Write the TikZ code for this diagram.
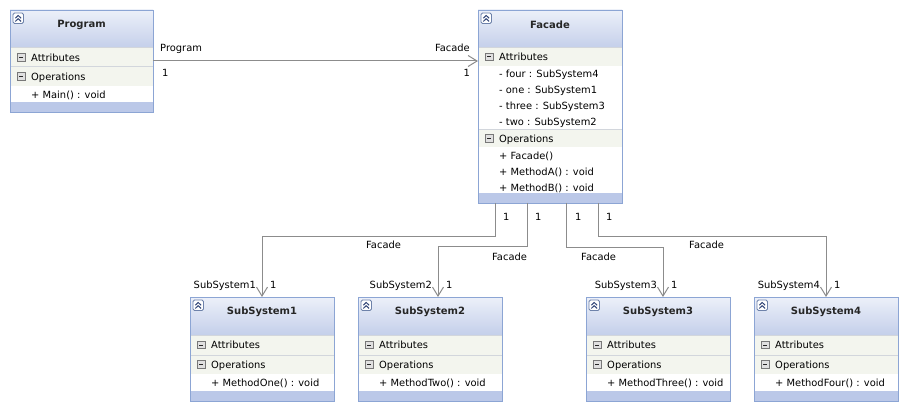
\documentclass[tikz,border=0pt]{standalone}
\usepackage{fontspec}
\setmainfont{DejaVu Sans}
\usetikzlibrary{arrows.meta,calc}
\definecolor{hdtop}{RGB}{236,240,249}
\definecolor{hdbot}{RGB}{196,207,234}
\definecolor{barblue}{RGB}{187,200,232}
\definecolor{rowgreen}{RGB}{243,245,238}
\definecolor{umlborder}{RGB}{140,165,212}
\definecolor{sepline}{RGB}{210,214,220}
\definecolor{conngray}{RGB}{140,140,140}
\definecolor{iconedge}{RGB}{110,130,170}
\definecolor{minusedge}{RGB}{120,120,120}
\definecolor{chev}{RGB}{50,70,120}
% name, left, top, right, bottom, title
\newcommand\umlbox[6]{%
  \fill[white] (#2,#3) rectangle (#4,#5);
  \shade[top color=hdtop,bottom color=hdbot] (#2,#3) rectangle (#4,#3+38);
  \fill[barblue] (#2,#5-10) rectangle (#4,#5);
  \node[ttl] (#1t) at ({(#2+#4)/2},#3+15) {#6};
  \draw[iconedge,fill=white,rounded corners=1.5pt,line width=0.8pt] (#2+3,#3+3) rectangle (#2+13.5,#3+13.5);
  \draw[chev,line width=1pt] (#2+5.3,#3+8.2) -- (#2+8.2,#3+5.5) -- (#2+11.1,#3+8.2)
     (#2+5.3,#3+11.4) -- (#2+8.2,#3+8.7) -- (#2+11.1,#3+11.4);
  \node[frame,minimum width={(#4-#2)*1pt},minimum height={(#5-#3)*1pt}] (#1) at (#2,#3) {};
}
% left, right, y1, y2, text
\newcommand\umlcomp[5]{%
  \fill[rowgreen] (#1,#3) rectangle (#2,#4);
  \draw[sepline,line width=1pt] (#1,#3) -- (#2,#3);
  \draw[minusedge,fill=white!88!black,line width=0.7pt] (#1+7.5,{(#3+#4)/2-3.8}) rectangle (#1+15,{(#3+#4)/2+3.8});
  \draw[black!85,line width=1pt] (#1+9.2,{(#3+#4)/2}) -- (#1+13.3,{(#3+#4)/2});
  \node[lbl,anchor=base west] at (#1+21,{(#3+#4)/2+3.8}) {#5};
}
% left, center y, text
\newcommand\umlitem[3]{%
  \node[lbl,anchor=base west] at (#1+21,#2+3.8) {#3};
}
\newcommand\umlclose[1]{%
  \draw[umlborder,line width=0.9pt] (#1.north west) rectangle (#1.south east);
}
\begin{document}
\begin{tikzpicture}[x=1pt,y=-1pt,
  lbl/.style={font=\fontsize{9.9}{11}\selectfont,inner sep=0pt,text=black},
  ttl/.style={font=\fontsize{10}{11}\selectfont\bfseries,inner sep=0pt,text=black!85},
  frame/.style={draw=none,inner sep=0pt,outer sep=0pt,anchor=north west},
  conn/.style={draw=conngray,line width=1pt,-{Straight Barb[length=9pt,width=11pt,line width=1pt]}},
  ]
\fill[white] (0,0) rectangle (909,411);
\useasboundingbox (0,0) rectangle (909,411);

% Program
\umlbox{program}{10}{10}{153}{112}{Program}
\umlcomp{10}{153}{48}{67}{Attributes}
\umlcomp{10}{153}{67}{86}{Operations}
\umlitem{10}{95}{+ Main() : void}
\umlclose{program}

% Facade
\umlbox{facade}{478}{10}{622}{203}{Facade}
\umlcomp{478}{622}{48}{66}{Attributes}
\umlitem{478}{74}{- four : SubSystem4}
\umlitem{478}{90}{- one : SubSystem1}
\umlitem{478}{106}{- three : SubSystem3}
\umlitem{478}{122}{- two : SubSystem2}
\umlcomp{478}{622}{130}{147}{Operations}
\umlitem{478}{156}{+ Facade()}
\umlitem{478}{172}{+ MethodA() : void}
\umlitem{478}{188}{+ MethodB() : void}
\umlclose{facade}

% SubSystems
\umlbox{sub1}{190}{297}{334}{401}{SubSystem1}
\umlcomp{190}{334}{335}{355}{Attributes}
\umlcomp{190}{334}{355}{374}{Operations}
\umlitem{190}{382.5}{+ MethodOne() : void}
\umlclose{sub1}

\umlbox{sub2}{358}{297}{502}{401}{SubSystem2}
\umlcomp{358}{502}{335}{355}{Attributes}
\umlcomp{358}{502}{355}{374}{Operations}
\umlitem{358}{382.5}{+ MethodTwo() : void}
\umlclose{sub2}

\umlbox{sub3}{586}{297}{730}{401}{SubSystem3}
\umlcomp{586}{730}{335}{355}{Attributes}
\umlcomp{586}{730}{355}{374}{Operations}
\umlitem{586}{382.5}{+ MethodThree() : void}
\umlclose{sub3}

\umlbox{sub4}{754}{297}{898}{401}{SubSystem4}
\umlcomp{754}{898}{335}{355}{Attributes}
\umlcomp{754}{898}{355}{374}{Operations}
\umlitem{754}{382.5}{+ MethodFour() : void}
\umlclose{sub4}

% connectors
\draw[conn] (program.east) -- (program.east -| facade.west);
\draw[conn] ([xshift=17pt]facade.south west) -- ++(0,34) -| (sub1.north);
\draw[conn] ([xshift=49pt]facade.south west) -- ++(0,44) -| ([xshift=80pt]sub2.north west);
\draw[conn] ([xshift=88pt]facade.south west) -- ++(0,45) -| ([xshift=77pt]sub3.north west);
\draw[conn] ([xshift=120pt]facade.south west) -- ++(0,34) -| (sub4.north);

% connector labels
\node[lbl,anchor=base west] (lpa) at (160,52) {Program};
\node[lbl,anchor=base west] (lpb) at (162,77) {1};
\node[lbl,anchor=base east] (lfa) at (470,52) {Facade};
\node[lbl,anchor=base east] (lfb) at (470,77) {1};

\node[lbl,anchor=base west] (m1) at (503,221) {1};
\node[lbl,anchor=base west] (m2) at (535,221) {1};
\node[lbl,anchor=base west] (m3) at (575,221) {1};
\node[lbl,anchor=base west] (m4) at (606,221) {1};

\node[lbl,anchor=base west] (f1) at (366,249) {Facade};
\node[lbl,anchor=base west] (f2) at (492,261) {Facade};
\node[lbl,anchor=base west] (f3) at (581,261) {Facade};
\node[lbl,anchor=base west] (f4) at (689,249) {Facade};

\node[lbl,anchor=base east] (s1) at (256,288) {SubSystem1};
\node[lbl,anchor=base west] (n1) at (270,288) {1};
\node[lbl,anchor=base east] (s2) at (432,288) {SubSystem2};
\node[lbl,anchor=base west] (n2) at (446,288) {1};
\node[lbl,anchor=base east] (s3) at (657,288) {SubSystem3};
\node[lbl,anchor=base west] (n3) at (671,288) {1};
\node[lbl,anchor=base east] (s4) at (820,288) {SubSystem4};
\node[lbl,anchor=base west] (n4) at (834,288) {1};
\end{tikzpicture}
\end{document}
